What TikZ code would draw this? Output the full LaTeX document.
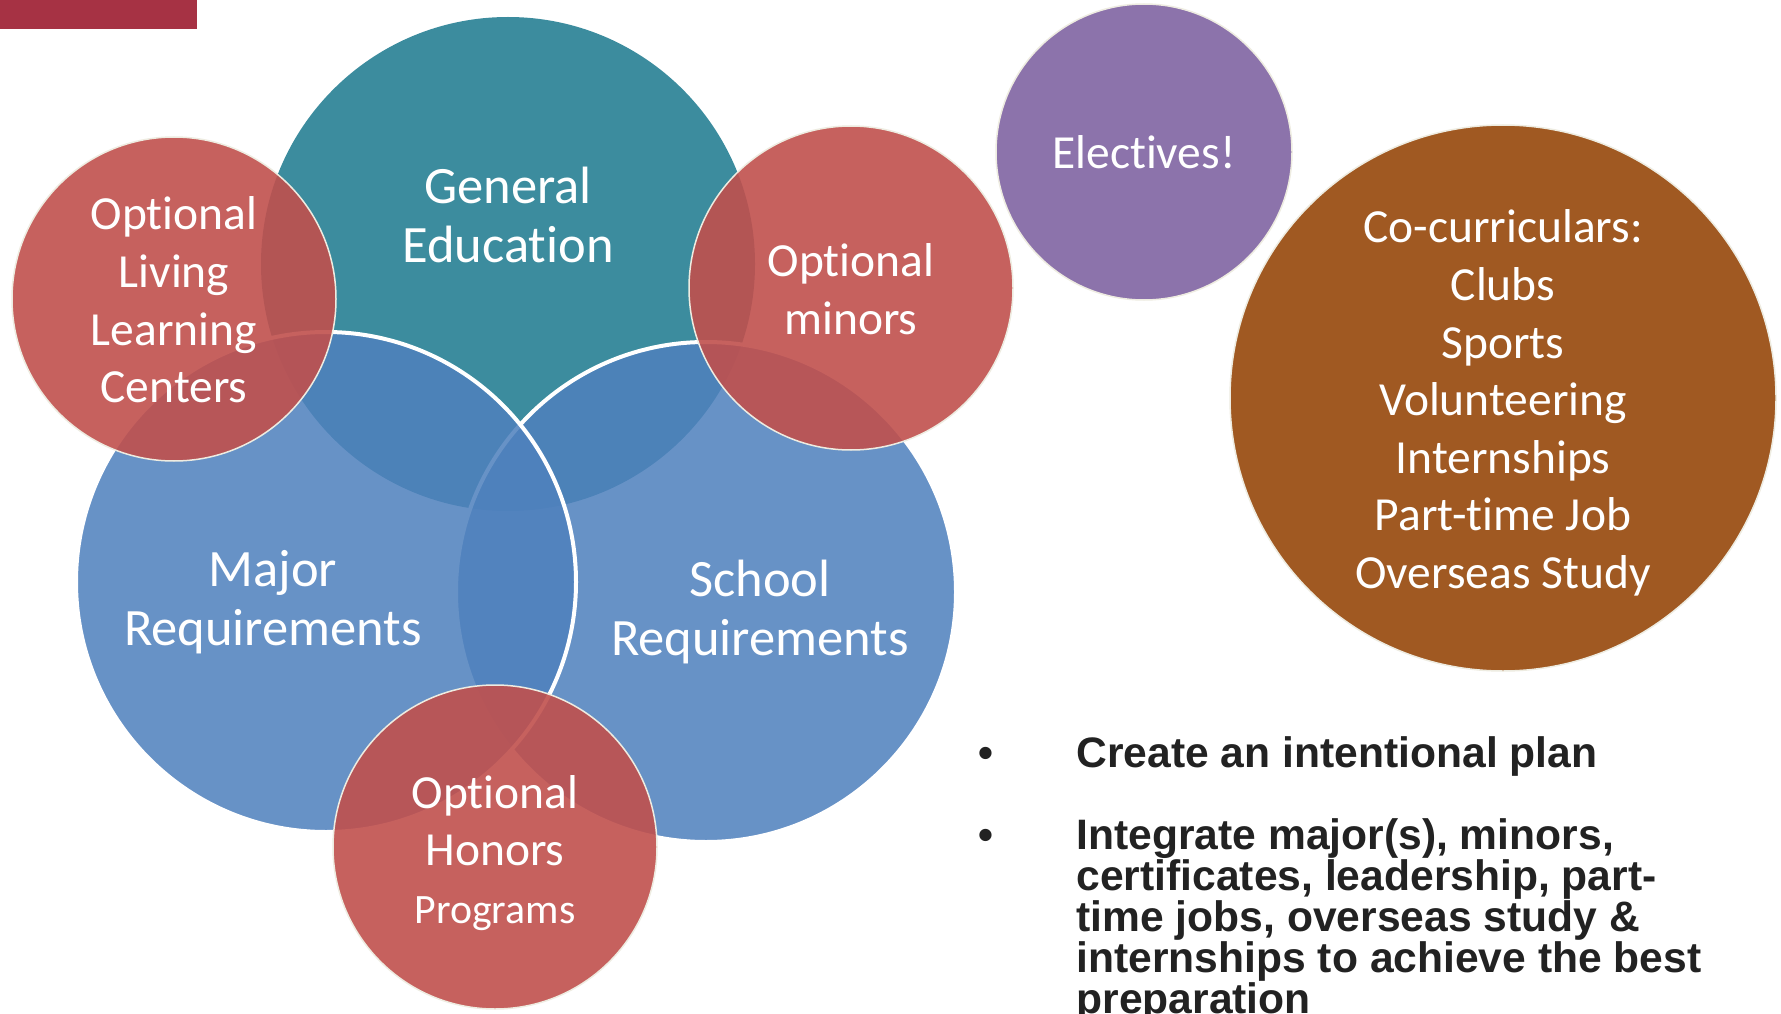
\documentclass[tikz,border=0pt]{standalone}
\usepackage{fontspec}
\setmainfont{Carlito}[Ligatures=NoCommon]
\newfontfamily\bulletfont{Liberation Sans}
\definecolor{tealc}{RGB}{60,140,158}
\definecolor{bluec}{RGB}{79,129,189}
\definecolor{redc}{RGB}{192,80,77}
\definecolor{purplec}{RGB}{128,100,162}
\definecolor{brownc}{RGB}{160,89,34}
\definecolor{rimc}{RGB}{238,236,225}
\definecolor{barc}{RGB}{166,50,68}
\definecolor{textc}{RGB}{34,34,34}
\tikzset{
  bigcirc/.style={circle, inner sep=0pt, minimum size=500pt},
  bluecirc/.style={bigcirc, fill=bluec, fill opacity=0.86, draw=white, line width=4pt},
  redcirc/.style={circle, inner sep=0pt, minimum size=324pt, fill=redc, fill opacity=0.9, draw=rimc, line width=1.5pt},
  biglabel/.style={text=white, align=center, font=\fontsize{52.5}{59}\selectfont},
  smalllabel/.style={text=white, align=center, font=\fontsize{47.5}{57.6}\selectfont},
  bullettext/.style={text=textc, align=left, anchor=base west, font=\bulletfont\bfseries\fontsize{42.6}{41}\selectfont},
  bulletdot/.style={text=textc, anchor=base, font=\bulletfont\bfseries\fontsize{42.6}{41}\selectfont}
}
\begin{document}
\begin{tikzpicture}[x=1pt, y=-1pt]
\useasboundingbox (0,0) rectangle (1781,1014);
\clip (0,0) rectangle (1781,1014);
\fill[white] (0,0) rectangle (1781,1014);
\fill[barc] (0,0) rectangle (197,29);
% main circles
\node[bigcirc, minimum size=494pt, fill=tealc] (ge) at (508,264) {};
\node[bluecirc] (school) at (706,592) {};
\node[bluecirc] (major) at (326,582) {};
% red circles
\node[redcirc] (llc) at (174,299) {};
\node[redcirc] (minors) at (851,288) {};
\node[redcirc] (honors) at (495,847) {};
% right circles
\node[circle, inner sep=0pt, minimum size=296pt, fill=purplec, fill opacity=0.9, draw=rimc, line width=1.5pt] (elect) at (1144,152) {};
\node[circle, inner sep=0pt, minimum size=546pt, fill=brownc, draw=rimc, line width=1.5pt] (cocur) at (1503,398) {};
% labels
\node[biglabel] (gelab) at (508,215) {General\\Education};
\node[biglabel] (majlab) at (273,602) {Major\\Requirements};
\node[biglabel] (schlab) at (760,612) {School\\Requirements};
\node[smalllabel] (llclab) at (174,300) {Optional\\Living\\Learning\\Centers};
\node[smalllabel] (minlab) at (851,289) {Optional\\minors};
\node[smalllabel] (honlab) at (495,853) {Optional\\Honors\\{\fontsize{41.8}{52}\selectfont Programs}};
\node[smalllabel] (ellab) at (1144,152) {Electives!};
\node[smalllabel] (coclab) at (1503,403) {Co-curriculars:\\Clubs\\Sports\\Volunteering\\Internships\\Part-time Job\\Overseas Study};
% bullets
\node[bulletdot] (b1) at (986,767) {•};
\node[bullettext] (t1) at (1073,767) {Create an intentional plan};
\node[bulletdot] (b2) at (986,849) {•};
\node[bullettext] (t2) at (1073,1013) {Integrate major(s), minors,\\certificates, leadership, part-\\time jobs, overseas study \&\\internships to achieve the best\\preparation};
\end{tikzpicture}
\end{document}
